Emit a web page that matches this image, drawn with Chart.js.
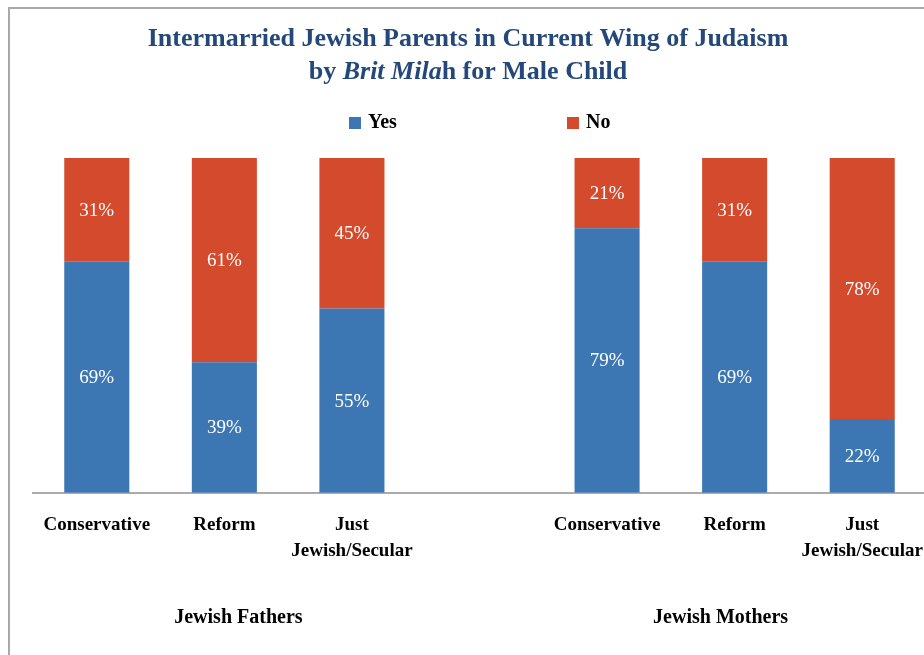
<!DOCTYPE html>
<html>
<head>
<meta charset="utf-8">
<script src="https://cdn.jsdelivr.net/npm/chart.js@4"></script>
<style>
  html, body { margin: 0; padding: 0; background: #fff; overflow: hidden; }
  #wrap { width: 924px; height: 655px; overflow: hidden; }
</style>
</head>
<body>
<div id="wrap"><canvas id="chart" width="940" height="655"></canvas></div>
<script>
const categories = ['Conservative', 'Reform', ['Just', 'Jewish/Secular'], '', 'Conservative', 'Reform', ['Just', 'Jewish/Secular']]
const yesValues = [69, 39, 55, null, 79, 69, 22]
const noValues = [31, 61, 45, null, 21, 31, 78]
const seriesNames = ['Yes', 'No']
const groupNames = ['Jewish Fathers', 'Jewish Mothers']

const BLUE = '#3C77B4'
const RED = '#D44A2D'
const SERIF = '"Liberation Serif", "Times New Roman", serif'

// frame, title, legend, group labels and value labels
const decorPlugin = {
  id: 'decor',
  beforeDraw(chart) {
    const ctx = chart.ctx
    ctx.save()
    ctx.strokeStyle = '#A9A9A9'
    ctx.lineWidth = 2
    ctx.strokeRect(9, 8, chart.width + 20, chart.height + 20)
    ctx.restore()
  },
  afterDraw(chart) {
    const ctx = chart.ctx
    const cx = 468
    ctx.save()
    ctx.fillStyle = '#24487A'
    ctx.textBaseline = 'middle'
    ctx.textAlign = 'center'
    ctx.font = `bold 26px ${SERIF}`
    ctx.fillText('Intermarried Jewish Parents in Current Wing of Judaism', cx, 39)

    // second line mixes italic and upright
    const parts = [
      { t: 'by ', f: `bold 26px ${SERIF}` },
      { t: 'Brit Mila', f: `italic bold 26px ${SERIF}` },
      { t: 'h for Male Child', f: `bold 26px ${SERIF}` },
    ]
    let total = 0
    parts.forEach(p => { ctx.font = p.f; p.w = ctx.measureText(p.t).width; total += p.w })
    let x = cx - total / 2
    ctx.textAlign = 'left'
    parts.forEach(p => { ctx.font = p.f; ctx.fillText(p.t, x, 72); x += p.w })

    // legend
    const legendX = [349, 567]
    chart.data.datasets.forEach((ds, i) => {
      ctx.fillStyle = ds.backgroundColor
      ctx.fillRect(legendX[i], 117, 12, 12)
      ctx.fillStyle = '#000'
      ctx.font = `bold 20px ${SERIF}`
      ctx.fillText(ds.label, legendX[i] + 19, 123)
    })

    // group labels under the category axis
    const xs = chart.scales.x
    const groupPos = [1.11, 4.89]
    ctx.textAlign = 'center'
    ctx.font = `bold 20px ${SERIF}`
    ctx.fillStyle = '#000'
    groupNames.forEach((g, i) => {
      ctx.fillText(g, xs.getPixelForValue(groupPos[i]), 618)
    })

    // value labels in each segment
    ctx.fillStyle = '#fff'
    ctx.font = `19px ${SERIF}`
    chart.data.datasets.forEach((ds, di) => {
      const meta = chart.getDatasetMeta(di)
      meta.data.forEach((bar, i) => {
        const v = ds.data[i]
        if (v == null) return
        const { x, y, base } = bar.getProps(['x', 'y', 'base'], true)
        ctx.fillText(v + '%', x, (y + base) / 2 + 1)
      })
    })
    ctx.restore()
  }
}

new Chart(document.getElementById('chart'), {
  type: 'bar',
  plugins: [decorPlugin],
  data: {
    labels: categories,
    datasets: [
      { label: seriesNames[0], data: yesValues, backgroundColor: BLUE },
      { label: seriesNames[1], data: noValues, backgroundColor: RED },
    ]
  },
  options: {
    responsive: false,
    animation: false,
    layout: { padding: { left: 33, right: 14, top: 158, bottom: 79 } },
    datasets: {
      bar: {
        barPercentage: 0.51,
        categoryPercentage: 1,
        borderWidth: 0,
      }
    },
    scales: {
      x: {
        stacked: true,
        grid: { display: false },
        border: { display: true, color: '#ABABAB', width: 2 },
        ticks: {
          color: '#000',
          autoSkip: false,
          maxRotation: 0,
          padding: 12,
          font: { family: SERIF, weight: 'bold', size: 19, lineHeight: 1.35 },
        }
      },
      y: {
        stacked: true,
        min: 0,
        max: 100,
        display: false,
      }
    },
    plugins: {
      legend: { display: false },
      title: { display: false },
      tooltip: { enabled: false },
    }
  }
})
</script>
</body>
</html>
